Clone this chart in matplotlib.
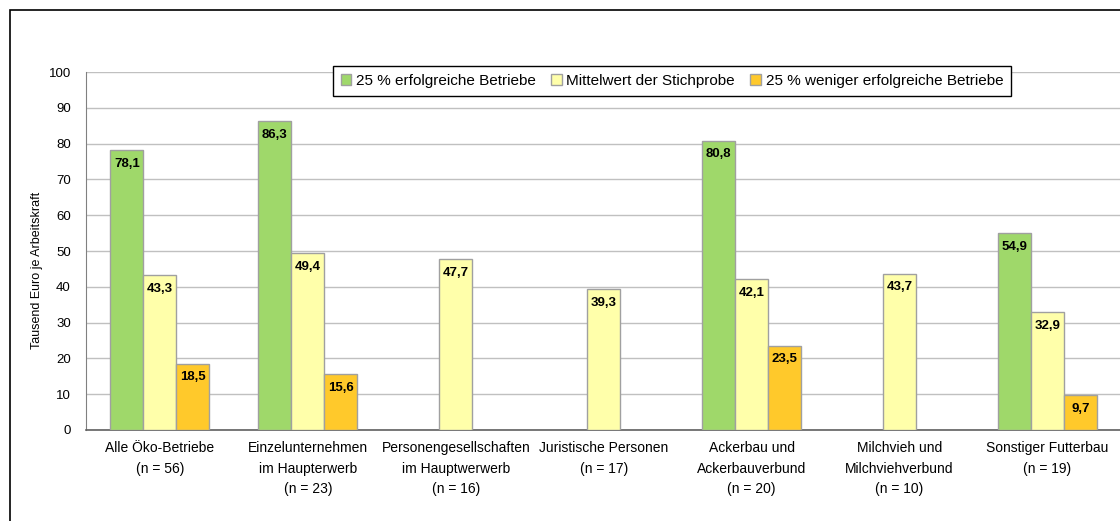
import numpy as np
import matplotlib
matplotlib.use("Agg")
import matplotlib.pyplot as plt
from matplotlib.patches import Rectangle

plt.rcParams['font.family'] = ['Liberation Sans', 'DejaVu Sans']

categories = ["Alle Öko-Betriebe\n(n = 56)",
              "Einzelunternehmen\nim Haupterwerb\n(n = 23)",
              "Personengesellschaften\nim Hauptwerwerb\n(n = 16)",
              "Juristische Personen\n(n = 17)",
              "Ackerbau und\nAckerbauverbund\n(n = 20)",
              "Milchvieh und\nMilchviehverbund\n(n = 10)",
              "Sonstiger Futterbau\n(n = 19)"]
top25 = [78.1, 86.3, None, None, 80.8, None, 54.9]
mean_sample = [43.3, 49.4, 47.7, 39.3, 42.1, 43.7, 32.9]
low25 = [18.5, 15.6, None, None, 23.5, None, 9.7]
series_names = ["25 % erfolgreiche Betriebe",
                "Mittelwert der Stichprobe",
                "25 % weniger erfolgreiche Betriebe"]
colors = ["#9FD86A", "#FFFFAA", "#FFC92B"]

fig = plt.figure(figsize=(11.2, 5.21), dpi=100)
ax = fig.add_axes([86 / 1120, 1 - 430 / 521, 1035.5 / 1120, 358 / 521])

# outer chart frame (cut off at right and bottom like the original)
fig.patches.append(Rectangle((10 / 1120, -0.1), 1.2, (511 / 521) + 0.1,
                             transform=fig.transFigure, fill=False,
                             edgecolor="black", linewidth=1.2, clip_on=False))

x = np.arange(len(categories))
w = 0.223
handles = []
for i, (vals, name, col) in enumerate(zip([top25, mean_sample, low25], series_names, colors)):
    pos = x + (i - 1) * w
    v = np.array([np.nan if a is None else a for a in vals], dtype=float)
    bars = ax.bar(pos, v, width=w, color=col, edgecolor="#A0A0A0", linewidth=1.0,
                  label=name, zorder=3)
    handles.append(bars)
    for p, val in zip(pos, v):
        if np.isnan(val):
            continue
        ax.text(p, val - 3.8, f"{val:.1f}".replace(".", ","), ha="center", va="center",
                fontsize=9.5, fontweight="bold", zorder=4)

ax.set_xlim(-0.5, 6.5)
ax.set_ylim(0, 100)
ax.set_yticks(np.arange(0, 101, 10))
ax.yaxis.grid(True, color="#C0C0C0", linewidth=1.0, zorder=0)
ax.set_axisbelow(True)
ax.set_xticks(x)
ax.set_xticklabels(categories, fontsize=10, linespacing=1.6)
ax.tick_params(axis="x", length=0, pad=8)
ax.tick_params(axis="y", length=0, labelsize=9.5, pad=11)
for s in ["top", "right"]:
    ax.spines[s].set_visible(False)
ax.spines["left"].set_color("#808080")
ax.spines["bottom"].set_color("#606060")
ax.spines["bottom"].set_linewidth(1.2)
ax.set_ylabel("Tausend Euro je Arbeitskraft", fontsize=9)
ax.yaxis.set_label_coords(-0.042, 0.447)

leg = ax.legend(handles=handles, loc="center", bbox_to_anchor=(672 / 1120, 1 - 81 / 521),
                bbox_transform=fig.transFigure, ncol=3, fontsize=11, frameon=True,
                fancybox=False, edgecolor="black", framealpha=1,
                handlelength=0.7, handleheight=0.7, handletextpad=0.3,
                columnspacing=1.0, borderpad=0.5)
leg.get_frame().set_linewidth(1.0)
leg.set_zorder(5)

fig.savefig("out.png", dpi=100)
